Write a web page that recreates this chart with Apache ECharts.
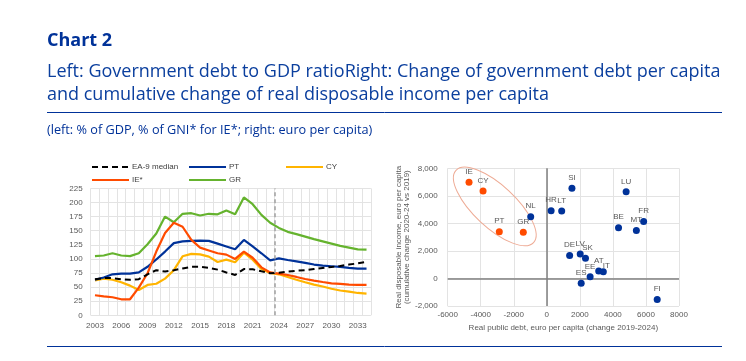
<!DOCTYPE html>
<html><head><meta charset="utf-8">
<script src="https://cdn.jsdelivr.net/npm/echarts@6/dist/echarts.min.js"></script>
<style>html,body{margin:0;padding:0;background:#fff}#c{width:746px;height:361px}</style>
</head><body><div id="c"></div>
<script>
// ---- Left panel: government debt to GDP ratio ----
const years = ['2003','2004','2005','2006','2007','2008','2009','2010','2011','2012','2013','2014','2015','2016','2017','2018','2019','2020','2021','2022','2023','2024','2025','2026','2027','2028','2029','2030','2031','2032','2033','2034'];
const ea9Median = [64,66,66,64,63,64,72.7,80,77.5,80,83,86,86,84,81,76,71.5,82,81.6,78,74.5,75.5,77.5,79,80,82,84,85.7,87.5,90,92,94.6];
const pt = [63,67,72.7,74,74,76,86,99,113,128,131,132,132.4,132,127,122,117,133.6,122,110,97.5,101,98,95.7,93,90,88,87,85.7,84,82.7,82.7];
const cy = [62,65,63,58.5,52.6,45,53.8,56,65,80,104.6,109,108,104,94.6,98.7,94,111,98.7,82,75,72.7,68,63,58.5,54.4,51,47,44,42,39.6,38.4];
const ie = [35.5,33.7,32,28.4,28.4,49,74.5,113,146,164,157,133.6,120,115,110,107.6,100,113,102,85,76,74,71.5,68,64.4,61.5,59,56.7,55.6,54.4,53.8,53.8];
const gr = [105,106,110,106,105,110,126,145,175,165,180,181,177,180,179,186,179,209,197,178,164,155,148,144,139.5,135,131,127,123,120,117,116.5];
const leftYTicks = [0,25,50,75,100,125,150,175,200,225];
const projectionStartBoundary = 21; // boundary between 2023 and 2024 (category slots)

// ---- Right panel: debt per capita vs real disposable income ----
const orangeCountries = ['IE','CY','PT','GR'];
const orangeDebt = [-4710,-3860,-2877,-1424];
const orangeIncome = [6980,6350,3396,3352];
const blueCountries = ['NL','HR','LT','SI','LU','BE','MT','FR','DE','LV','SK','AT','IT','EE','ES','FI'];
const blueDebt = [-976,260,900,1520,4800,4340,5420,5860,1380,2020,2340,3140,3420,2620,2080,6680];
const blueIncome = [4485,4920,4890,6550,6290,3690,3490,4140,1660,1780,1470,550,480,120,-340,-1520];
const rightXTicks = [-6000,-4000,-2000,0,2000,4000,6000,8000];
const rightYTicks = [-2000,0,2000,4000,6000,8000];
const ellipseCenter = [-3150, 5230];

const BLUE = '#003299', SUB = '#0b3f9e', ORANGE = '#ff4b00', YELLOW = '#ffb400', GREEN = '#65b32e';
const AX = '#595959', GRID = '#e3e3e3', FONT = 'Liberation Sans';

function pts(names, xs, ys) {
  return names.map((n, i) => {
    const p = { name: n, value: [xs[i], ys[i]] };
    if (n === 'IT') p.label = { offset: [3, 4] };
    if (n === 'SK') p.label = { offset: [2, 0] };
    return p;
  });
}

const chart = echarts.init(document.getElementById('c'), null, { renderer: 'canvas' });
const lineS = (name, data, color, extra) => Object.assign({
  name, type: 'line', data, xAxisIndex: 0, yAxisIndex: 0, symbol: 'none',
  lineStyle: { color, width: 2.2 }, itemStyle: { color }, z: 3
}, extra || {});
const legendBase = { orient: 'vertical', top: 163, padding: 0, itemWidth: 37, itemHeight: 10, itemGap: 5,
  itemStyle: { opacity: 0, borderWidth: 0 },
  textStyle: { fontSize: 8, color: '#404040', fontFamily: FONT, padding: [0, 0, 0, -2] }, selectedMode: false };

chart.setOption({
  animation: false,
  textStyle: { fontFamily: FONT },
  title: [
    { text: 'Chart 2', left: 47, top: 32, padding: 0, textStyle: { fontFamily: 'Open Sans', fontWeight: 'bold', fontSize: 18, color: BLUE } },
    { text: 'Left: Government debt to GDP ratioRight: Change of government debt per capita\nand cumulative change of real disposable income per capita',
      left: 47, top: 60, padding: 0, textStyle: { fontFamily: 'Open Sans', fontWeight: 'normal', fontSize: 18, lineHeight: 23, color: SUB } },
    { text: '(left: % of GDP, % of GNI* for IE*; right: euro per capita)', left: 47, top: 124, padding: 0,
      textStyle: { fontFamily: 'Open Sans', fontWeight: 'normal', fontSize: 12.7, color: BLUE } }
  ],
  legend: [
    Object.assign({}, legendBase, { data: ['EA-9 median', 'IE*'], left: 91 }),
    Object.assign({}, legendBase, { data: ['PT', 'GR'], left: 188 }),
    Object.assign({}, legendBase, { data: ['CY'], left: 285 })
  ],
  grid: [
    { left: 90.6, top: 188.4, width: 280.3, height: 126.9, containLabel: false },
    { left: 447.7, top: 168.3, width: 231.3, height: 137.7, containLabel: false }
  ],
  xAxis: [
    { type: 'category', gridIndex: 0, data: years, boundaryGap: true,
      axisLine: { show: false }, axisTick: { show: false },
      axisLabel: { interval: 2, color: AX, fontSize: 8, margin: 6 },
      splitLine: { show: true, interval: 0, lineStyle: { color: GRID, width: 1 } } },
    { type: 'value', gridIndex: 0, min: 0, max: years.length, show: false },
    { type: 'value', gridIndex: 1, min: rightXTicks[0], max: rightXTicks[rightXTicks.length - 1], interval: 2000,
      axisLine: { show: false }, axisTick: { show: false },
      axisLabel: { color: AX, fontSize: 8, margin: 5, formatter: v => String(v) },
      splitLine: { show: true, lineStyle: { color: GRID, width: 1 } },
      name: 'Real public debt, euro per capita (change 2019-2024)', nameLocation: 'middle', nameGap: 18,
      nameTextStyle: { color: AX, fontSize: 8, fontFamily: FONT } }
  ],
  yAxis: [
    { type: 'value', gridIndex: 0, min: leftYTicks[0], max: leftYTicks[leftYTicks.length - 1], interval: 25,
      axisLine: { show: false }, axisTick: { show: false },
      axisLabel: { color: AX, fontSize: 8, margin: 8 },
      splitLine: { show: true, lineStyle: { color: GRID, width: 1 } } },
    { type: 'value', gridIndex: 1, min: rightYTicks[0], max: rightYTicks[rightYTicks.length - 1], interval: 2000,
      axisLine: { show: false }, axisTick: { show: false },
      axisLabel: { color: AX, fontSize: 8, margin: 10, formatter: v => v.toLocaleString('en-US') },
      splitLine: { show: true, lineStyle: { color: GRID, width: 1 } },
      name: 'Real disposable income, euro per capita\n(cumulative change 2020-24 vs 2019)', nameLocation: 'middle', nameGap: 22,
      nameRotate: 90, nameTextStyle: { color: AX, fontSize: 8, lineHeight: 8, fontFamily: FONT } }
  ],
  series: [
    { type: 'line', xAxisIndex: 1, yAxisIndex: 0, data: [], silent: true,
      markLine: { silent: true, symbol: 'none', label: { show: false },
        lineStyle: { type: [4, 3], color: '#a0a0a0', width: 1.5 },
        data: [{ xAxis: projectionStartBoundary }] } },
    lineS('GR', gr, GREEN),
    lineS('CY', cy, YELLOW),
    lineS('PT', pt, BLUE),
    lineS('IE*', ie, ORANGE),
    lineS('EA-9 median', ea9Median, '#000000', { lineStyle: { color: '#000000', width: 2, type: [6, 4] }, z: 4 }),
    { name: 'zero', type: 'scatter', xAxisIndex: 2, yAxisIndex: 1, data: [], silent: true,
      markLine: { silent: true, symbol: 'none', label: { show: false },
        lineStyle: { type: 'solid', color: '#7f7f7f', width: 1.5 },
        data: [{ xAxis: 0 }, { yAxis: 0 }] } },
    { name: 'blue', type: 'scatter', xAxisIndex: 2, yAxisIndex: 1, symbolSize: 7,
      itemStyle: { color: BLUE, opacity: 1 }, z: 5,
      label: { show: true, position: 'top', distance: 3, formatter: '{b}', fontSize: 8, color: AX, fontFamily: FONT },
      data: pts(blueCountries, blueDebt, blueIncome) },
    { name: 'orange', type: 'scatter', xAxisIndex: 2, yAxisIndex: 1, symbolSize: 7,
      itemStyle: { color: ORANGE, opacity: 1 }, z: 5,
      label: { show: true, position: 'top', distance: 3, formatter: '{b}', fontSize: 8, color: AX, fontFamily: FONT },
      data: pts(orangeCountries, orangeDebt, orangeIncome) }
  ]
});

const c = chart.convertToPixel({ xAxisIndex: 2, yAxisIndex: 1 }, ellipseCenter);
chart.setOption({
  graphic: [
    { type: 'line', shape: { x1: 47, y1: 112.5, x2: 722, y2: 112.5 }, style: { stroke: BLUE, lineWidth: 1 } },
    { type: 'line', shape: { x1: 47, y1: 346.5, x2: 722, y2: 346.5 }, style: { stroke: BLUE, lineWidth: 1 } },
    { type: 'ellipse', x: c[0], y: c[1], rotation: -43 * Math.PI / 180,
      shape: { cx: 0, cy: 0, rx: 53, ry: 21 }, style: { fill: 'none', stroke: '#eeab95', lineWidth: 1 }, z: 2 }
  ]
});
</script></body></html>
